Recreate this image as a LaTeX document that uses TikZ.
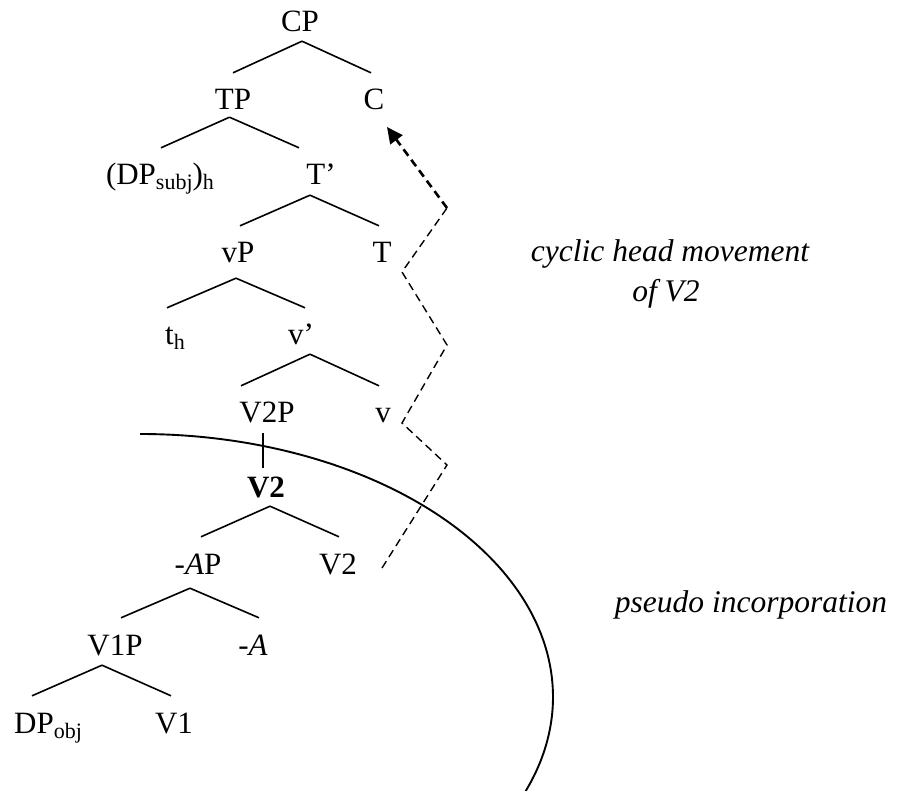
\documentclass[tikz,border=0pt]{standalone}
\usepackage{fontspec}
\setmainfont{Liberation Serif}
\usetikzlibrary{arrows.meta}
\newcommand{\lowsub}[1]{\raisebox{-5pt}{\fontsize{22pt}{22pt}\selectfont #1}}
\begin{document}
\begin{tikzpicture}[x=1pt,y=-1pt,
  font=\fontsize{31pt}{37pt}\selectfont,
  lab/.style={anchor=base, inner sep=0pt, text height=37pt, text depth=9pt},
  note/.style={anchor=base, inner sep=0pt, font=\fontsize{31.5pt}{37pt}\selectfont\itshape},
  branch/.style={line width=1.6pt},
  movethin/.style={line width=1.4pt, dash pattern=on 8pt off 5pt},
  movethick/.style={line width=2.6pt, dash pattern=on 8pt off 5pt},
  pseudo/.style={line width=1.9pt}]
\useasboundingbox (0,0) rectangle (900,791);

% tree nodes
\node[lab] (CP)  at (300,32)  {CP};
\node[lab] (TP)  at (233,110) {TP};
\node[lab] (C)   at (374,110) {C};
\node[lab] (DPs) at (160,185) {(DP\lowsub{subj})\lowsub{h}};
\node[lab] (Tb)  at (321,185) {T’};
\node[lab] (vP)  at (238,263) {vP};
\node[lab] (T)   at (382,263) {T};
\node[lab] (th)  at (175,345) {t\lowsub{h}};
\node[lab] (vb)  at (301,345) {v’};
\node[lab] (V2P) at (267,423) {V2P};
\node[lab] (v)   at (383,423) {v};
\node[lab] (V2b) at (266,497) {\textbf{V2}};
\node[lab] (AP)  at (198,574) {-\textit{A}P};
\node[lab] (V2)  at (338,574) {V2};
\node[lab] (V1P) at (115,655) {V1P};
\node[lab] (A)   at (253,655) {-\textit{A}};
\node[lab] (DPo) at (48,733)  {DP\lowsub{obj}};
\node[lab] (V1)  at (174,733) {V1};

% branches
\draw[branch] ([xshift=2pt]CP.south) -- (TP.north);
\draw[branch] ([xshift=2pt]CP.south) -- ([xshift=-3pt]C.north);
\draw[branch] ([xshift=-3.5pt,yshift=2pt]TP.south) -- ([xshift=1pt]DPs.north);
\draw[branch] ([xshift=-3.5pt,yshift=2pt]TP.south) -- ([xshift=-22pt]Tb.north);
\draw[branch] ([xshift=-11pt,yshift=-1pt]Tb.south) -- ([xshift=2pt]vP.north);
\draw[branch] ([xshift=-11pt,yshift=-1pt]Tb.south) -- ([xshift=-3pt]T.north);
\draw[branch] ([xshift=-2pt,yshift=-6pt]vP.south) -- ([xshift=-8pt]th.north);
\draw[branch] ([xshift=-2pt,yshift=-6pt]vP.south) -- ([xshift=4pt]vb.north);
\draw[branch] ([xshift=9pt]vb.south) -- ([xshift=-26pt]V2P.north);
\draw[branch] ([xshift=9pt]vb.south) -- ([xshift=-4pt]v.north);
\draw[branch] ([xshift=-4pt,yshift=-1pt]V2P.south) -- ([xshift=-3pt,yshift=-8pt]V2b.north);
\draw[branch] ([xshift=4pt]V2b.south) -- ([xshift=3pt]AP.north);
\draw[branch] ([xshift=4pt]V2b.south) -- ([xshift=1pt]V2.north);
\draw[branch] ([xshift=-8pt,yshift=-5pt]AP.south) -- ([xshift=6pt]V1P.north);
\draw[branch] ([xshift=-8pt,yshift=-5pt]AP.south) -- ([xshift=6pt]A.north);
\draw[branch] ([xshift=-13pt,yshift=-1pt]V1P.south) -- ([xshift=-16pt]DPo.north);
\draw[branch] ([xshift=-13pt,yshift=-1pt]V1P.south) -- ([xshift=-3pt]V1.north);

% cyclic head movement path
\coordinate (m0) at (382,568);
\coordinate (m1) at (447,465);
\coordinate (m2) at (402,423);
\coordinate (m3) at (447,345);
\coordinate (m4) at (402,272);
\coordinate (m5) at (447,208);
\coordinate (m6) at (387,127);
\draw[movethin] (m0) -- (m1) -- (m2) -- (m3) -- (m4) -- (m5);
\draw[movethick, -{Triangle[length=16pt,width=15pt]}] (m5) -- (m6);

% pseudo incorporation boundary
\coordinate (p0) at (140,434);
\draw[pseudo] (p0) arc[start angle=-90, end angle=21, x radius=413, y radius=263];

% labels
\node[note] (cyc1) at (670,262) {cyclic head movement};
\node[note] (cyc2) at (666,302) {of V2};
\node[note] (pinc) at (751,612) {pseudo incorporation};
\end{tikzpicture}
\end{document}
